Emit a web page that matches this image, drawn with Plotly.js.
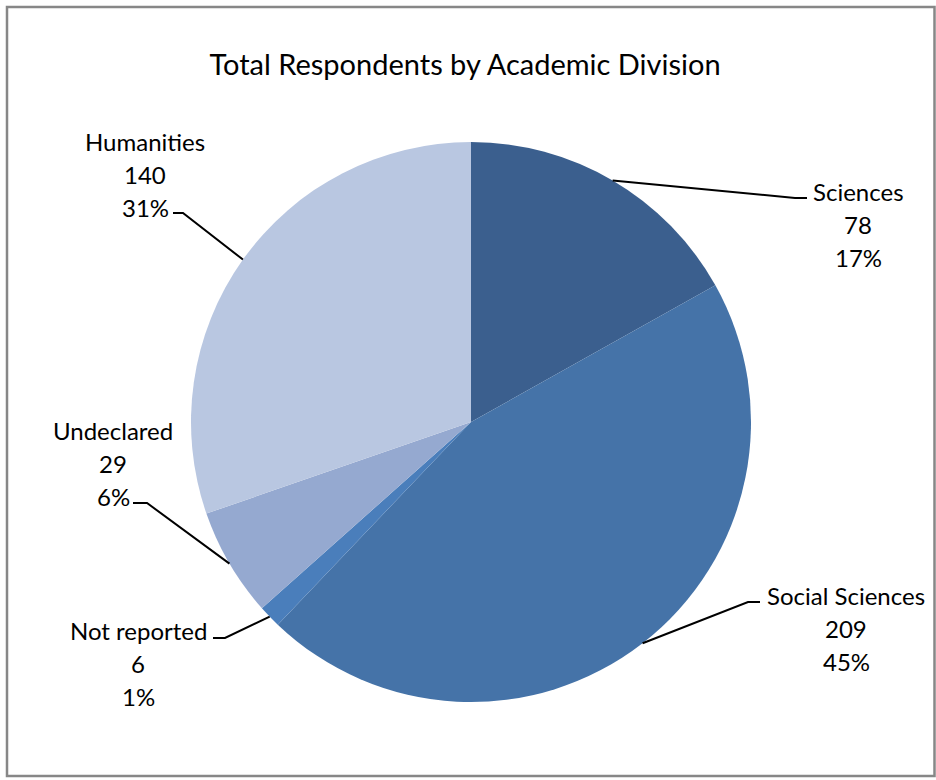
<!DOCTYPE html>
<html>
<head>
<meta charset="utf-8">
<script src="https://cdn.plot.ly/plotly-3.0.1.min.js"></script>
<style>html,body{margin:0;padding:0;background:#fff;}#chart{width:936px;height:780px;}</style>
</head>
<body>
<div id="chart"></div>
<script>
// ---- data ----
var categories = ["Sciences", "Social Sciences", "Not reported", "Undeclared", "Humanities"];
var counts = [78, 209, 6, 29, 140];
var percentLabels = ["17%", "45%", "1%", "6%", "31%"];
var chartTitle = "Total Respondents by Academic Division";

// ---- style / layout ----
var colors = ["#3B5F8E", "#4573A8", "#4A7EBB", "#95A9D0", "#B9C7E1"];
var W = 936, H = 780;
var cx = 471, cy = 422, R = 280;
var fontFam = "Lato, 'Open Sans', sans-serif";
// label placement (pixels): elbow point, horizontal end, text centre x, first line y
var labelPos = [
  {ex: 795, ey: 198, hx: 807, tx: 858, ty: 191},
  {ex: 748, ey: 602, hx: 760, tx: 846, ty: 595},
  {ex: 225, ey: 638, hx: 213, tx: 138, ty: 630},
  {ex: 147, ey: 503, hx: 133, tx: 113, ty: 430},
  {ex: 183, ey: 213, hx: 173, tx: 145, ty: 141}
];
var lineGap = 33;

var total = counts.reduce(function(a, b){ return a + b; }, 0);
var shapes = [{
  type: "rect", xref: "x", yref: "y", x0: 7, y0: 7, x1: 934.5, y1: 776,
  line: {color: "#878787", width: 2.5}, fillcolor: "rgba(0,0,0,0)", layer: "above"
}];
var annotations = [];
var cum = 0;
for (var i = 0; i < counts.length; i++) {
  var mid = (cum + counts[i] / 2) / total * 2 * Math.PI;
  cum += counts[i];
  var tipX = cx + R * Math.sin(mid);
  var tipY = cy - R * Math.cos(mid);
  var p = labelPos[i];
  shapes.push({
    type: "path", xref: "x", yref: "y",
    path: "M" + tipX + "," + tipY + " L" + p.ex + "," + p.ey + " L" + p.hx + "," + p.ey,
    line: {color: "#000", width: 2}
  });
  var lines = [categories[i], String(counts[i]), percentLabels[i]];
  for (var k = 0; k < lines.length; k++) {
    annotations.push({
      xref: "x", yref: "y", x: p.tx, y: p.ty + k * lineGap,
      text: lines[k], showarrow: false, xanchor: "center", yanchor: "middle",
      font: {family: fontFam, size: 24, color: "#000"}
    });
  }
}

var trace = {
  type: "pie",
  labels: categories,
  values: counts,
  sort: false,
  direction: "clockwise",
  rotation: 0,
  textinfo: "none",
  hoverinfo: "label+value+percent",
  marker: {colors: colors, line: {width: 0}},
  domain: {x: [(cx - R) / W, (cx + R) / W], y: [(H - cy - R) / H, (H - cy + R) / H]},
  showlegend: false
};

var layout = {
  width: W, height: H,
  margin: {l: 0, r: 0, t: 0, b: 0},
  paper_bgcolor: "#fff", plot_bgcolor: "rgba(0,0,0,0)",
  title: {text: chartTitle, x: 465 / W, xanchor: "center", y: 1 - 65 / H, yanchor: "middle",
          font: {family: fontFam, size: 29, color: "#000"}},
  xaxis: {range: [0, W], visible: false, fixedrange: true},
  yaxis: {range: [H, 0], visible: false, fixedrange: true},
  shapes: shapes,
  annotations: annotations,
  showlegend: false
};

Plotly.newPlot("chart", [trace], layout, {displayModeBar: false, staticPlot: true});
</script>
</body>
</html>
